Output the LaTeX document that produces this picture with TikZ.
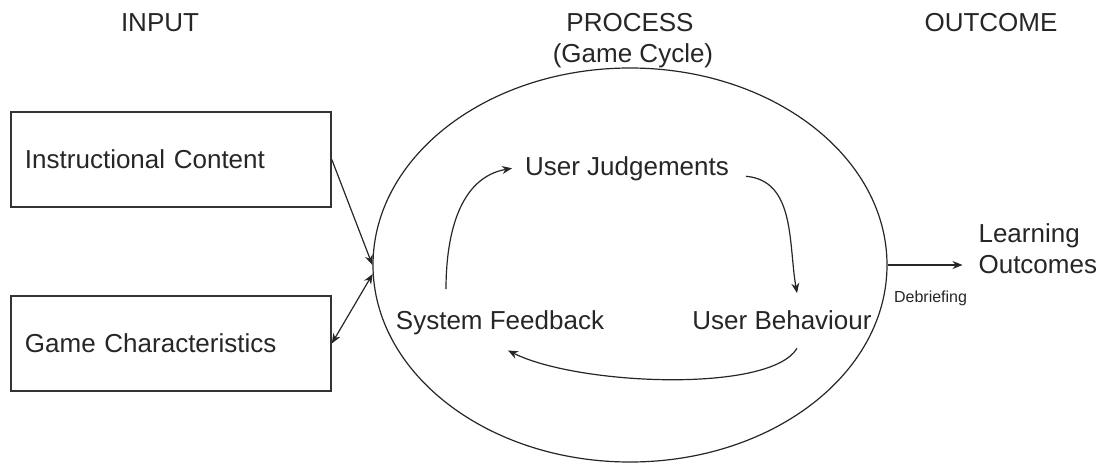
\documentclass[tikz,border=0pt]{standalone}
\usepackage{fontspec}
\setmainfont{Liberation Sans}
\usetikzlibrary{shapes.geometric,arrows.meta}
\newcommand{\diagfont}{\fontsize{13pt}{15.5pt}\selectfont}
\begin{document}
\begin{tikzpicture}[x=0.5pt,y=0.5pt,
  every node/.style={font=\diagfont, text=black!85},
  inputbox/.style={draw=black!80, line width=0.8pt, text width=146pt, inner xsep=7pt, minimum height=47.5pt, align=left},
  flow/.style={draw=black!85, line width=0.6pt, -{Stealth[length=5pt,width=4pt]}},
  both/.style={draw=black!85, line width=0.6pt, {Stealth[length=5pt,width=4pt]}-{Stealth[length=5pt,width=4pt]}}]
\useasboundingbox (0,0) rectangle (1102,-466);

\node[anchor=base] (input) at (160,-32) {INPUT};
\node[anchor=base] (process) at (630,-32) {PROCESS};
\node[anchor=base] (gamecycle) at (633,-62) {(Game Cycle)};
\node[anchor=base] (outcome) at (991,-32) {OUTCOME};

\node[inputbox] (content) at (171,-159.5) {Instructional Content};
\node[inputbox] (traits) at (171,-343.5) {Game Characteristics};

\node[draw=black!85, line width=0.6pt, ellipse, minimum width=257pt, minimum height=197pt, inner sep=0pt] (cycle) at (630,-265) {};

\node[anchor=base] (judge) at (627,-175) {User Judgements};
\node[anchor=base] (feedback) at (500,-329) {System Feedback};
\node[anchor=base] (behaviour) at (782,-329) {User Behaviour};

\node[anchor=base west, align=left] (learning) at (971.5,-273) {Learning\\Outcomes};
\node[anchor=base west, font=\fontsize{8pt}{9pt}\selectfont] (debrief) at (887,-302) {Debriefing};

\draw[flow] (content.east) -- (cycle.west);
\draw[both] (cycle.182) -- (traits.east);

\draw[flow] ([xshift=-27pt,yshift=7pt]feedback.north) to[out=90,in=190] ([xshift=-3pt,yshift=0pt]judge.west);
\draw[flow] ([xshift=5pt,yshift=-4pt]judge.east) to[out=-5,in=100] ([xshift=7.5pt,yshift=5pt]behaviour.north);
\draw[flow] ([xshift=7.5pt,yshift=-6pt]behaviour.south) .. controls +(-27,-45) and +(70,-35) .. ([xshift=4pt,yshift=-4.5pt]feedback.south);

\draw[flow, shorten >=4.5pt] (cycle.east) -- (cycle.east -| learning.west);
\end{tikzpicture}
\end{document}
